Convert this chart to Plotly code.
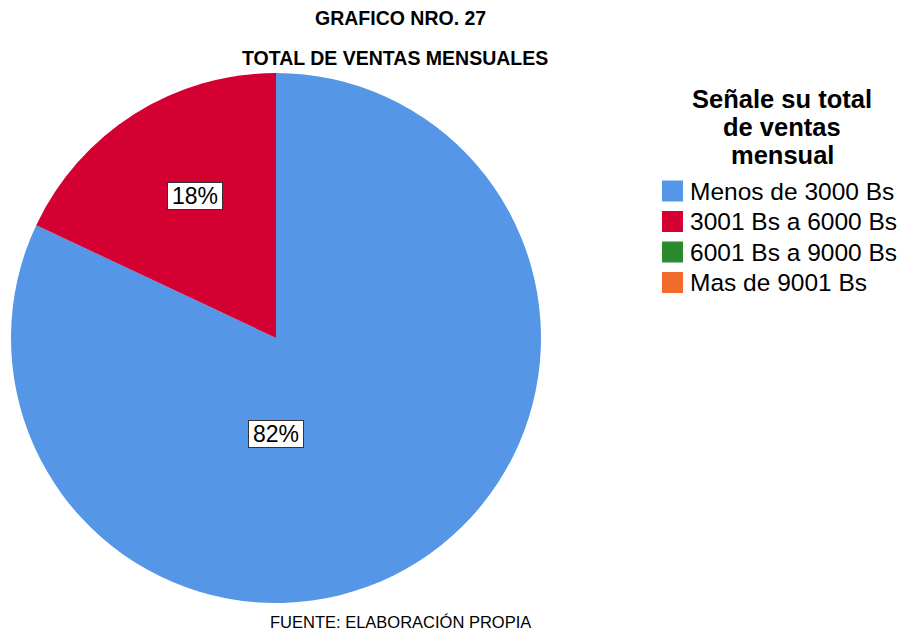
import plotly.graph_objects as go

# ---- data ----
categories = ["Menos de 3000 Bs", "3001 Bs a 6000 Bs", "6001 Bs a 9000 Bs", "Mas de 9001 Bs"]
values = [82, 18, 0, 0]
colors = ["#5596E6", "#D50032", "#2A8A2E", "#F26B2A"]
legend_title_lines = ["Señale su total", "de ventas", "mensual"]
title_lines = ["GRAFICO NRO. 27", "TOTAL DE VENTAS MENSUALES"]
footer = "FUENTE: ELABORACIÓN PROPIA"

W, H = 907, 632
FONT = "Liberation Sans, Arial, sans-serif"

def px(x):
    return x / W

def py(y):
    return 1 - y / H

def ann(text, x, y, size, xanchor="center", **kw):
    d = dict(text=text, x=px(x), y=py(y), xref="paper", yref="paper",
             showarrow=False, xanchor=xanchor, yanchor="middle",
             font=dict(family=FONT, size=size, color="#000"))
    d.update(kw)
    return d

# pie geometry: centre (276, 338), radius 265
cx, cy, r = 276, 338, 265
fig = go.Figure(go.Pie(
    labels=categories,
    values=values,
    marker=dict(colors=colors, line=dict(width=0)),
    sort=False,
    direction="clockwise",
    rotation=0,
    textinfo="none",
    hoverinfo="label+percent",
    showlegend=False,
    domain=dict(x=[px(cx - r), px(cx + r)], y=[py(cy + r), py(cy - r)]),
))

annotations = []
shapes = []

# titles
annotations.append(ann("<b>" + title_lines[0] + "</b>", 400, 18, 19.5))
annotations.append(ann("<b>" + title_lines[1] + "</b>", 395, 58, 19.5))
annotations.append(ann(footer, 400, 622, 16.5))

# percentage labels (boxed)
total = sum(values)
label_pos = [(276, 434), (195, 196)]
for i, (lx, ly) in enumerate(label_pos):
    pct = round(values[i] / total * 100)
    annotations.append(ann(f"{pct}%", lx, ly, 23,
                           bgcolor="white", bordercolor="#333", borderwidth=1,
                           borderpad=1, width=52, height=24))

# legend title
for j, (line, ly) in enumerate(zip(legend_title_lines, [98.5, 127, 154.5])):
    annotations.append(ann("<b>" + line + "</b>", 782, ly, 25.5,
                           height=25, borderpad=0))

# legend items
for k, (cat, col) in enumerate(zip(categories, colors)):
    yc = 191 + 30.5 * k
    shapes.append(dict(type="rect", xref="paper", yref="paper",
                       x0=px(662), x1=px(683), y0=py(yc - 10.5), y1=py(yc + 10.5),
                       fillcolor=col, line=dict(width=0)))
    annotations.append(ann(cat, 688, yc, 24.5, xanchor="left"))

fig.update_layout(
    width=W, height=H,
    margin=dict(l=0, r=0, t=0, b=0),
    paper_bgcolor="white", plot_bgcolor="white",
    annotations=annotations, shapes=shapes,
    showlegend=False,
)
fig.write_html("out.html", config={"displayModeBar": False},
               post_script="document.body.style.margin='0';document.body.style.overflow='hidden';")
